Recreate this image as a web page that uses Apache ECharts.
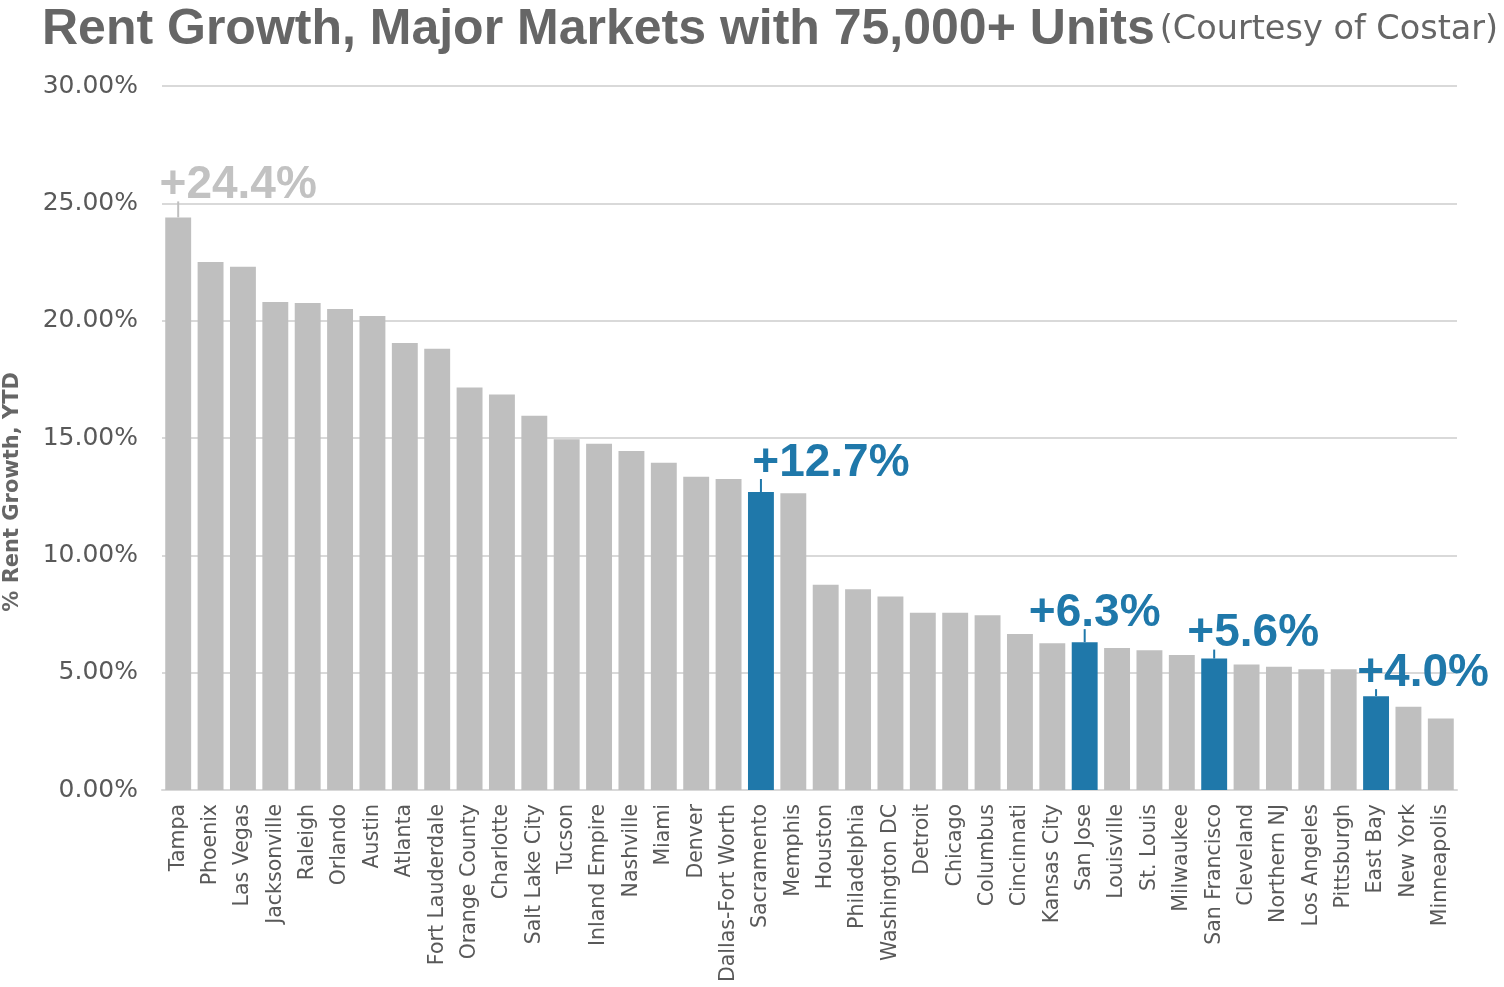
<!DOCTYPE html>
<html><head><meta charset="utf-8">
<script src="https://cdn.jsdelivr.net/npm/echarts@6/dist/echarts.min.js"></script>
<style>html,body{margin:0;padding:0;background:#fff}#c{width:1504px;height:987px}</style>
</head><body><div id="c"></div>
<script>
const categories = ["Tampa","Phoenix","Las Vegas","Jacksonville","Raleigh","Orlando","Austin","Atlanta","Fort Lauderdale","Orange County","Charlotte","Salt Lake City","Tucson","Inland Empire","Nashville","Miami","Denver","Dallas-Fort Worth","Sacramento","Memphis","Houston","Philadelphia","Washington DC","Detroit","Chicago","Columbus","Cincinnati","Kansas City","San Jose","Louisville","St. Louis","Milwaukee","San Francisco","Cleveland","Northern NJ","Los Angeles","Pittsburgh","East Bay","New York","Minneapolis"];
const rentGrowth = [24.4,22.5,22.3,20.8,20.75,20.5,20.2,19.05,18.8,17.15,16.85,15.95,14.95,14.75,14.45,13.95,13.35,13.25,12.7,12.65,8.75,8.55,8.25,7.55,7.55,7.45,6.65,6.25,6.3,6.05,5.95,5.75,5.6,5.35,5.25,5.15,5.15,4.0,3.55,3.05];
const highlighted = ["Sacramento","San Jose","San Francisco","East Bay"];
const annotated = ["Tampa","Sacramento","San Jose","San Francisco","East Bay"];
const yTicks = [0,5,10,15,20,25,30];

const GRAY = '#bfbfbf', BLUE = '#1f78aa';
// styling only: label x shift and leader length (px)
const noteStyle = {"Tampa":[60,16],"Sacramento":[70,13],"San Jose":[10,13],"San Francisco":[39,9],"East Bay":[47,7]};

const barData = categories.map((c,i)=>({value:rentGrowth[i], itemStyle:{color: highlighted.includes(c)?BLUE:GRAY}}));
const noteData = annotated.map(c=>{
  const i = categories.indexOf(c);
  const col = highlighted.includes(c)?BLUE:GRAY;
  const [dx,len] = noteStyle[c];
  return {value:[c, rentGrowth[i]], symbolSize:[2,len], symbolOffset:[0,-len/2],
    itemStyle:{color: col, opacity:1},
    label:{color: c==='Tampa'?'#c2c2c2':BLUE, offset:[dx,0]}};
});

const chart = echarts.init(document.getElementById('c'), null, {renderer:'canvas'});
chart.setOption({
  animation:false,
  title:{
    left:37, top:0,
    text:'{a|Rent Growth, Major Markets with 75,000+ Units} {b|(Courtesy of Costar)}',
    textStyle:{rich:{
      a:{fontFamily:'Liberation Sans, Arial',fontWeight:'bold',fontSize:50,color:'#666666'},
      b:{fontFamily:'DejaVu Sans',fontWeight:'normal',fontSize:33.5,color:'#666666'}
    }}
  },
  grid:{left:162,right:47,top:86,bottom:197,containLabel:false},
  xAxis:{type:'category',data:categories,
    axisLine:{lineStyle:{color:'#d9d9d9',width:2}},axisTick:{show:false},
    axisLabel:{rotate:90,interval:0,margin:14,fontFamily:'DejaVu Sans',fontSize:20.5,color:'#595959'}
  },
  yAxis:{type:'value',min:0,max:30,interval:5,
    axisLabel:{formatter:v=>yTicks.includes(v)?v.toFixed(2)+'%':'',margin:24,fontFamily:'DejaVu Sans',fontSize:25,color:'#595959'},
    splitLine:{lineStyle:{color:'#d9d9d9',width:2}},
    axisLine:{show:false},axisTick:{show:false}
  },
  graphic:[{type:'text',left:2,top:372,rotation:Math.PI/2,
    style:{text:'% Rent Growth, YTD',fontFamily:'DejaVu Sans',fontWeight:'bold',fontSize:21,fill:'#666666'}}],
  series:[
    {type:'bar',data:barData,barWidth:'80%'},
    {type:'scatter',data:noteData,symbol:'rect',z:5,
      label:{show:true,position:'top',distance:-7,fontFamily:'Liberation Sans, Arial',fontWeight:'bold',fontSize:46,
        formatter:p=>'+'+p.value[1].toFixed(1)+'%'}}
  ]
});
</script></body></html>
